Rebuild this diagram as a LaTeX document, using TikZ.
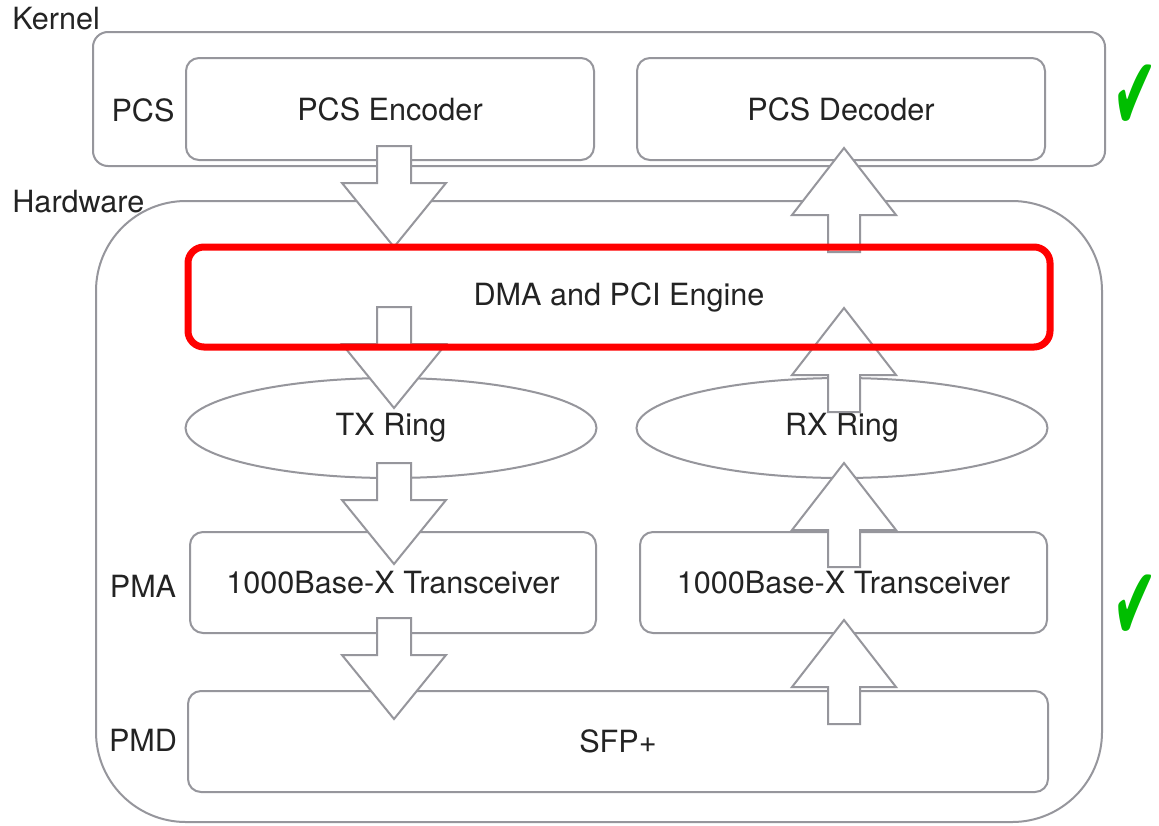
\documentclass[tikz,border=0pt]{standalone}
\usepackage{fontspec}
\setmainfont{TeX Gyre Heros}
\newfontfamily\symfont{DejaVu Sans}
\usetikzlibrary{shapes.geometric}
\definecolor{edge}{RGB}{150,150,156}
\definecolor{txt}{RGB}{35,35,35}
\definecolor{okgreen}{RGB}{0,190,0}
\definecolor{dmared}{RGB}{255,0,0}
\tikzset{
  box/.style={draw=edge, line width=1pt, rounded corners=6.5pt, fill=white, text=txt,
    font=\fontsize{15.3}{18}\selectfont, inner sep=0pt},
  ring/.style={ellipse, draw=edge, line width=1pt, fill=white, text=txt,
    font=\fontsize{15.3}{18}\selectfont, inner sep=0pt, minimum width=205.5pt, minimum height=50pt},
  lbl/.style={text=txt, font=\fontsize{15.3}{18}\selectfont, inner sep=0pt},
  arrowline/.style={draw=edge, line width=1pt, fill=white, line join=miter},
  check/.style={text=okgreen, font=\symfont\fontsize{52}{52}\selectfont, inner sep=0pt},
  downarr/.pic={\path[arrowline] (-17,0) -- (17,0) -- (17,37) -- (52,37) -- (0,101) -- (-52,37) -- (-17,37) -- cycle;},
  uparr/.pic={\path[arrowline] (0,0) -- (52,67) -- (16,67) -- (16,104) -- (-16,104) -- (-16,67) -- (-52,67) -- cycle;}
}
\begin{document}
\begin{tikzpicture}[x=0.5pt, y=-0.5pt]
\useasboundingbox[fill=white] (0,0) rectangle (1159,825);
% kernel
\node[lbl, anchor=base west] (kernellbl) at (12,29) {Kernel};
\node[box, rounded corners=7.5pt, minimum width=506pt, minimum height=67pt] (kernel) at (599,99) {};
\node[lbl] (pcslbl) at (143,110) {PCS};
\node[box, minimum width=204pt, minimum height=51pt] (enc) at (390,109) {PCS Encoder};
\node[box, minimum width=204pt, minimum height=51pt] (dec) at (841,109) {PCS Decoder};
% hardware
\node[lbl, anchor=base west] (hwlbl) at (12,212) {Hardware};
\node[box, rounded corners=45pt, minimum width=503pt, minimum height=310.5pt] (hw) at (599,511.5) {};
\node[ring] (txr) at (391,428) {TX Ring};
\node[ring] (rxr) at (842,428) {RX Ring};
\node[lbl] (pmalbl) at (143,586) {PMA};
\node[box, minimum width=203pt, minimum height=50.5pt] (tl) at (393,582.5) {1000Base-X Transceiver};
\node[box, minimum width=203.5pt, minimum height=50.5pt] (tr) at (843.5,582.5) {1000Base-X Transceiver};
\node[lbl] (pmdlbl) at (143,740) {PMD};
\node[box, minimum width=430pt, minimum height=50.5pt] (sfp) at (618,741.5) {SFP+};
% block arrows
\pic at (394,146) {downarr};
\pic at (394,307) {downarr};
\pic at (394,463) {downarr};
\pic at (394,618) {downarr};
\pic at (844,148) {uparr};
\pic at (844,308) {uparr};
\pic at (844,463) {uparr};
\pic at (844,620) {uparr};
% DMA engine on top
\node[draw=dmared, line width=3.5pt, rounded corners=8pt, text=txt, font=\fontsize{15.3}{18}\selectfont,
  inner sep=0pt, minimum width=431pt, minimum height=50pt] (dma) at (619,297) {DMA and PCI Engine};
% checks
\node[check, anchor=east] (ck1) at (1158,97.5) {\scalebox{0.52}[1]{✔}};
\node[check, anchor=east] (ck2) at (1158,607.5) {\scalebox{0.52}[1]{✔}};
\end{tikzpicture}
\end{document}
